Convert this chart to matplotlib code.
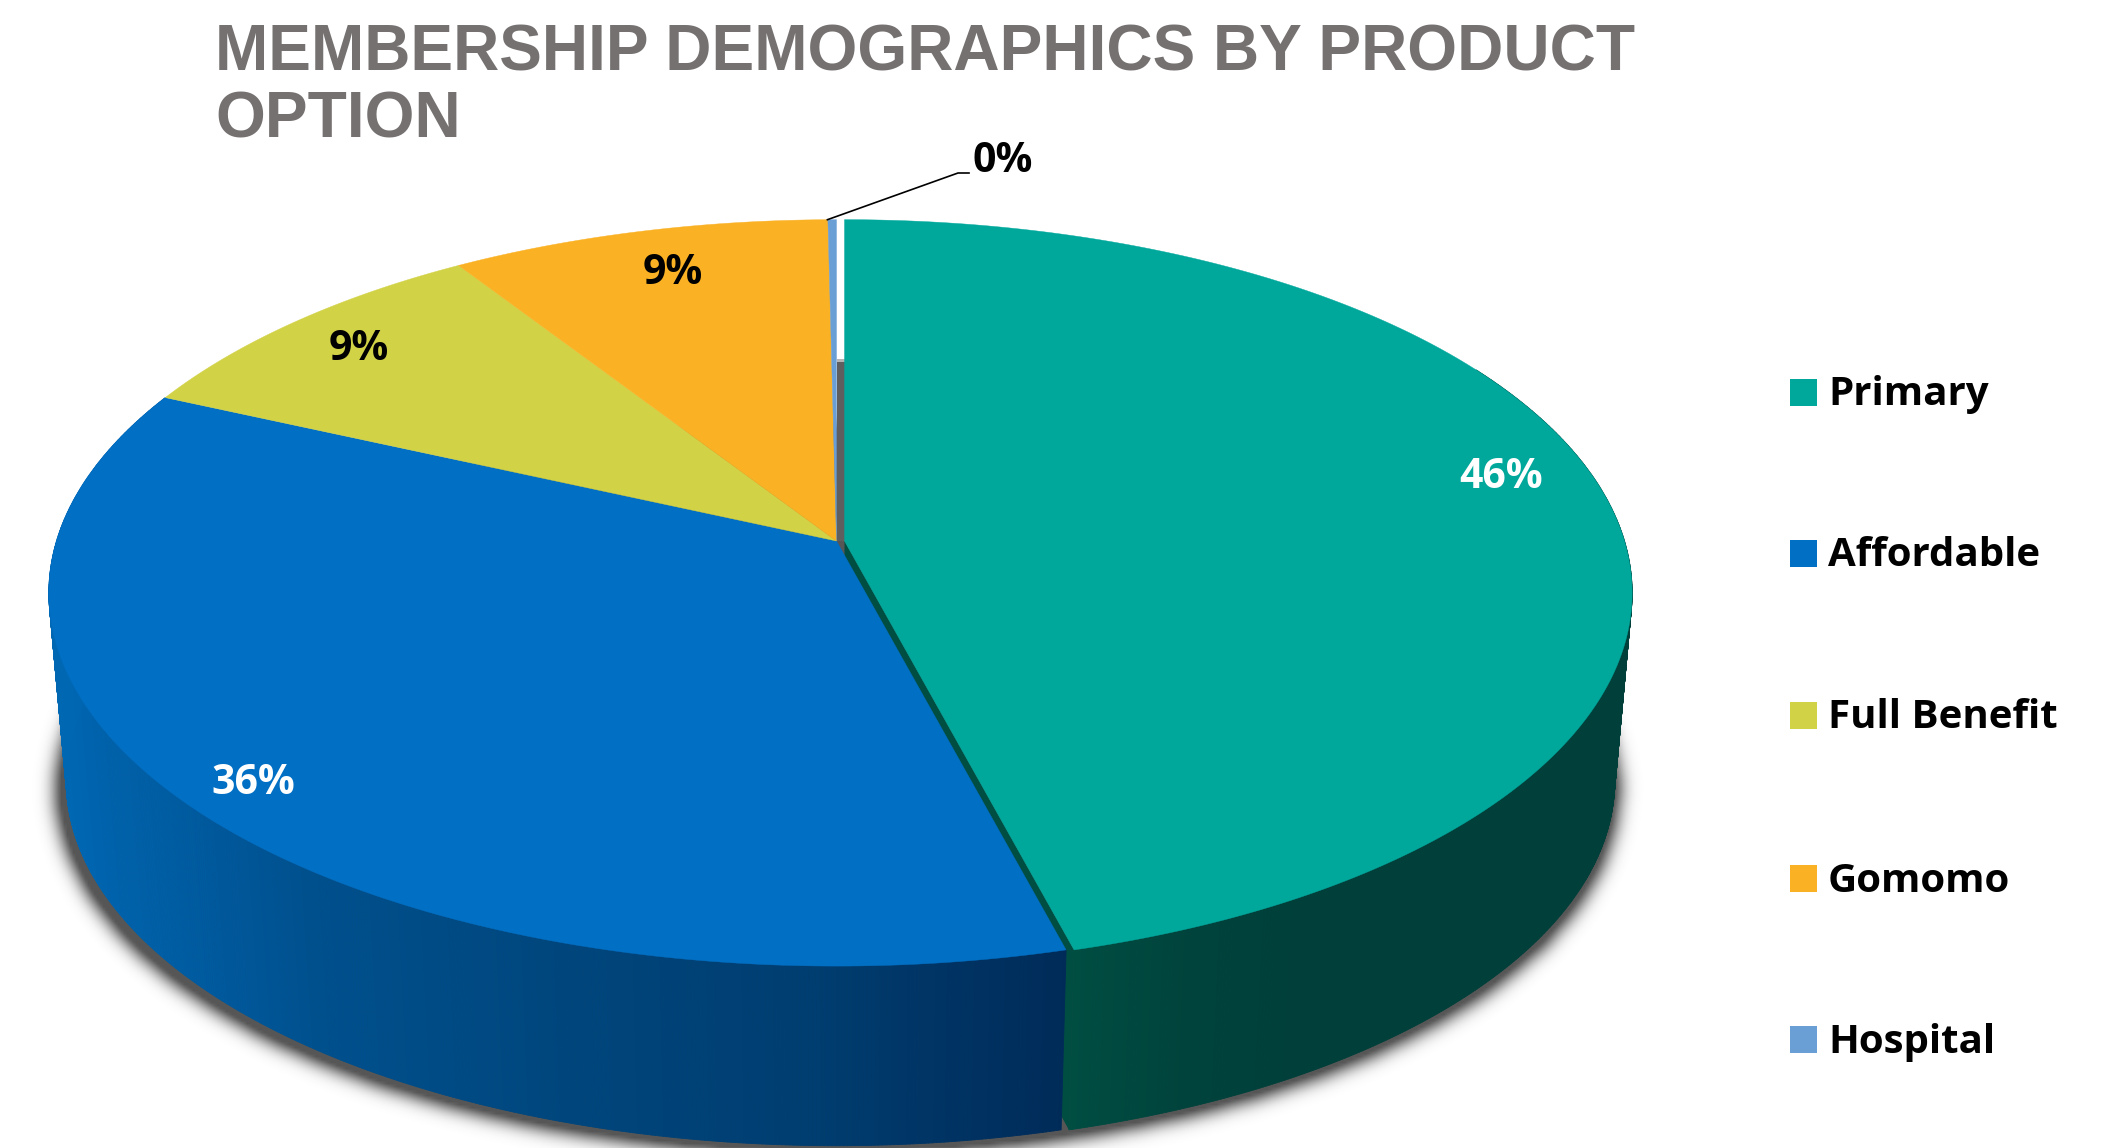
import numpy as np
import matplotlib
matplotlib.use("Agg")
import matplotlib.pyplot as plt
from matplotlib.collections import PolyCollection
from matplotlib.colors import LinearSegmentedColormap
from matplotlib.patches import Polygon, Rectangle
from matplotlib.path import Path

# -------------------------
# 0) Data
# -------------------------
categories = ["Primary", "Affordable", "Full Benefit", "Gomomo", "Hospital"]
shares = [45.9, 35.9, 9.1, 8.9, 0.2]
colors = ["#00A89C", "#016FC4", "#D2D247", "#FAB124", "#6A9FD6"]
label_colors = ["white", "white", "black", "black", "black"]
title = "MEMBERSHIP DEMOGRAPHICS BY PRODUCT\nOPTION"

# -------------------------
# 1) Pie geometry (canvas pixels, perspective tilt)
# -------------------------
W, H = 2111, 1148
cx, cy = 836.5, 541.0
explode = 8.0          # Primary is pulled out to the right
a, b, k = 780.0, 366.0, 0.139
vx, vy = 841.0, 9130.0  # vanishing point of the side walls
depth = 0.978

label_xy = [(1501, 477), (253, 784), (359, 349), (673, 274), (1003, 161)]


def rim(deg, dx=0.0):
    # deg runs clockwise from 12 o'clock
    t = np.radians(np.asarray(deg, dtype=float))
    s, c = np.sin(t), np.cos(t)
    w = 1 + k * c
    return np.column_stack([cx + dx + a * s / w, cy - b * c / w])


def drop(pts):
    # same points on the bottom face of the disc
    pts = np.asarray(pts, dtype=float)
    return np.column_stack([vx + depth * (pts[:, 0] - vx), vy + depth * (pts[:, 1] - vy)])


def wedge_poly(d0, d1, dx=0.0):
    n = max(int(abs(d1 - d0) * 2), 2)
    arc = rim(np.linspace(d0, d1, n), dx)
    return np.vstack([[cx + dx, cy], arc])


def wall(ax, d0, d1, cmap, x0, x1, dx=0.0):
    # curved outer wall as thin quads, shaded by x position
    deg = np.linspace(d0, d1, int(abs(d1 - d0) * 4))
    top = rim(deg, dx)
    bot = drop(top)
    quads = [[top[i], top[i + 1], bot[i + 1], bot[i]] for i in range(len(deg) - 1)]
    xm = np.array([np.mean(q, axis=0)[0] for q in quads])
    fc = cmap(np.clip((xm - x0) / (x1 - x0), 0, 1))
    ax.add_collection(PolyCollection(quads, facecolors=fc, edgecolors=fc, linewidths=0.6))


cum = np.cumsum([0] + shares) / sum(shares) * 360

fig = plt.figure(figsize=(W / 100, H / 100), dpi=100)
ax = fig.add_axes([0, 0, 1, 1])

# -------------------------
# 2) Soft drop shadow under the disc
# -------------------------
step = 3
gx, gy = np.meshgrid(np.arange(0, W + 60, step), np.arange(0, H + 60, step))
outline = drop(rim(np.linspace(0, 360, 400)))
outline[:, 0] = vx + (outline[:, 0] - vx) * 1.014
outline[:, 1] += 8
mask = Path(outline).contains_points(np.column_stack([gx.ravel(), gy.ravel()])).reshape(gx.shape)

sigma = 9.0 / step
kx = np.arange(-15, 16)
kern = np.exp(-kx ** 2 / (2 * sigma ** 2))
kern /= kern.sum()
soft = np.apply_along_axis(lambda r: np.convolve(r, kern, mode="same"), 1, mask.astype(float))
soft = np.apply_along_axis(lambda r: np.convolve(r, kern, mode="same"), 0, soft)

rgba = np.zeros(soft.shape + (4,))
rgba[..., :3] = 0.22
rgba[..., 3] = np.clip(soft * 1.5, 0, 1) * 0.85
ax.imshow(rgba, extent=(0, W + 60, H + 60, 0), interpolation="bilinear", zorder=1)

# -------------------------
# 3) Side walls
# -------------------------
teal_wall = LinearSegmentedColormap.from_list("teal_wall", ["#004D42", "#00433C", "#003F3A"])
blue_wall = LinearSegmentedColormap.from_list(
    "blue_wall", ["#0067B3", "#00508E", "#00467D", "#003D70", "#002B59"])

end_primary = cum[1]
corner = rim([end_primary], explode)
apex = np.array([[cx + explode, cy]])
face = np.vstack([apex, corner, drop(corner), drop(apex)])
ax.add_patch(Polygon(face, closed=True, fc="#004D42", ec="none", zorder=2))

wall_group = fig.add_axes([0, 0, 1, 1], sharex=ax, sharey=ax)
wall_group.axis("off")
wall_group.patch.set_alpha(0)
wall(wall_group, 60, end_primary, teal_wall, corner[0, 0], 1300, explode)
wall(wall_group, end_primary, cum[2], blue_wall, 60, rim([end_primary])[0, 0])

# gap behind the pulled-out slice
gap_top = 362
wall_group.add_patch(Rectangle((cx, gap_top), explode, cy - gap_top, fc="#5F5F5F", ec="none"))
wall_group.add_patch(Rectangle((cx, gap_top - 3), explode, 3, fc="#B5B5B5", ec="none"))

# -------------------------
# 4) Top faces, labels, leader line
# -------------------------
for i, name in enumerate(categories):
    dx = explode if i == 0 else 0.0
    wall_group.add_patch(Polygon(wedge_poly(cum[i], cum[i + 1], dx), closed=True,
                                 fc=colors[i], ec=colors[i], lw=0.3))

font = ["Open Sans", "DejaVu Sans"]
for i, pct in enumerate(shares):
    wall_group.text(label_xy[i][0], label_xy[i][1], f"{pct:.0f}%", color=label_colors[i],
                    fontsize=29.5, fontweight="bold", family=font, ha="center", va="center")

start = rim([(cum[-2] + cum[-1]) / 2 - 0.4])[0]
wall_group.plot([start[0], 958, 969], [start[1], 173, 173], color="black", lw=1.2,
                solid_joinstyle="miter")

# -------------------------
# 5) Title and legend
# -------------------------
wall_group.text(215, 138, title, color="#767171", fontsize=46.1, fontweight="bold",
                family=["Liberation Sans", "DejaVu Sans"], ha="left", va="baseline",
                linespacing=1.165)

legend_y = [392, 553, 715, 878, 1039]
for i, name in enumerate(categories):
    wall_group.add_patch(Rectangle((1790, legend_y[i] - 13.5), 27, 27, fc=colors[i], ec="none"))
    wall_group.text(1828, legend_y[i] + 3, name, color="black", fontsize=29, fontweight="bold",
                    family=font, ha="left", va="center")

for axis in (ax, wall_group):
    axis.set_xlim(0, W)
    axis.set_ylim(H, 0)
    axis.set_aspect("auto")
    axis.axis("off")

fig.savefig("out.png", dpi=100, facecolor="white")
